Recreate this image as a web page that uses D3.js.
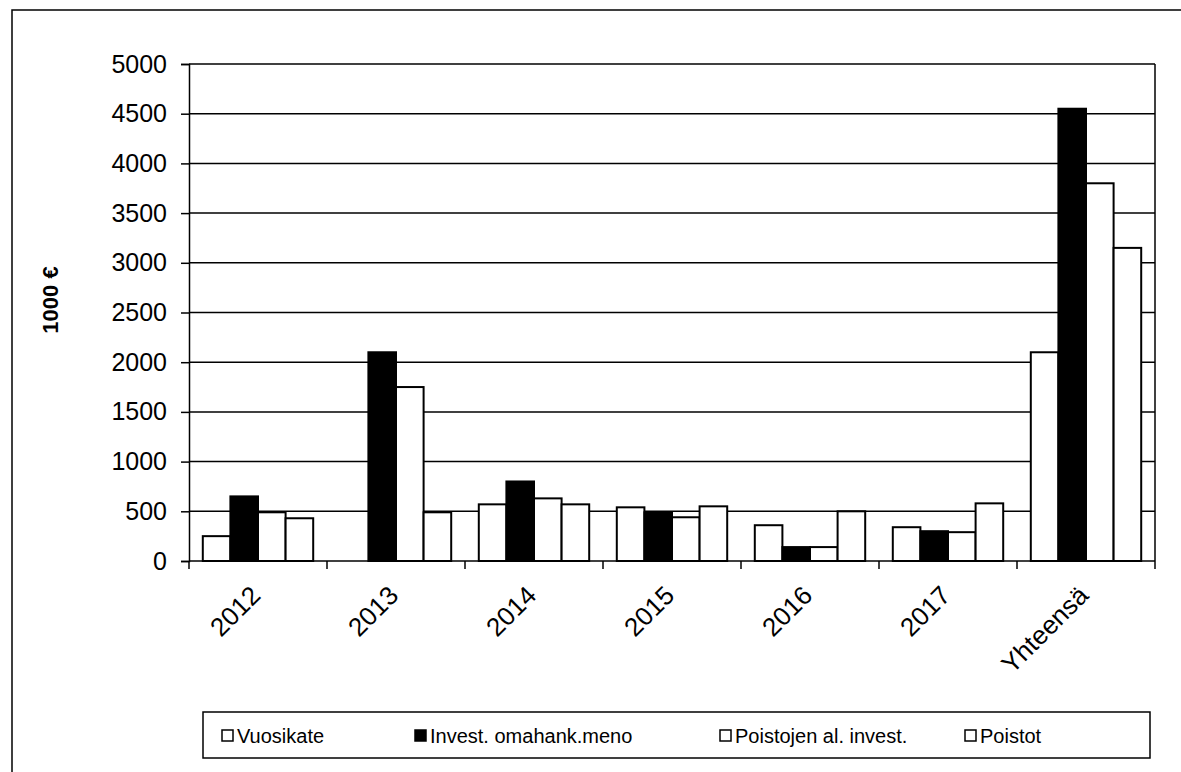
<!DOCTYPE html>
<html>
	<head>
		<meta http-equiv="Content-Type" content="text/html;charset=utf-8"/>
		<title>Vuosikate ja investoinnit</title>
		<script src="https://d3js.org/d3.v7.min.js"></script>
		<style type="text/css">

			body {
				margin: 0;
				background: #fff;
			}

			text {
				font-family: "Liberation Sans", Arial, sans-serif;
				fill: #000;
			}

			.grid line {
				stroke: #000;
				stroke-width: 1.5;
			}

			.bar {
				stroke: #000;
				stroke-width: 2;
			}

		</style>
	</head>
	<body>
		<script type="text/javascript">

			//Chart data (1000 €)
			var categories = ["2012", "2013", "2014", "2015", "2016", "2017", "Yhteensä"];
			var seriesNames = ["Vuosikate", "Invest. omahank.meno", "Poistojen al. invest.", "Poistot"];
			var vuosikate = [250, 0, 570, 540, 360, 340, 2100];
			var investMeno = [650, 2100, 800, 490, 140, 300, 4550];
			var poistojenAl = [490, 1750, 630, 440, 140, 290, 3800];
			var poistot = [430, 490, 570, 550, 500, 580, 3150];
			var yTicks = [0, 500, 1000, 1500, 2000, 2500, 3000, 3500, 4000, 4500, 5000];

			var seriesValues = [vuosikate, investMeno, poistojenAl, poistot];
			var seriesFill = ["#fff", "#000", "#fff", "#fff"];

			//Size of the page and the plot area
			var w = 1181,
				h = 772,
				plotLeft = 189,
				plotRight = 1155,
				plotTop = 64,
				plotBottom = 561;

			var svg = d3.select("body").append("svg")
						.attr("width", w)
						.attr("height", h);

			//Outer frame of the chart
			svg.append("rect")
				.attr("x", 12)
				.attr("y", 10)
				.attr("width", w + 10)
				.attr("height", h + 10)
				.attr("fill", "none")
				.attr("stroke", "#000")
				.attr("stroke-width", 1.5);

			//Scales
			var xScale = d3.scaleBand()
							.domain(categories)
							.range([plotLeft, plotRight])
							.padding(0);

			var xSeries = d3.scaleBand()
							.domain(d3.range(seriesNames.length))
							.range([0, xScale.bandwidth()])
							.paddingInner(0)
							.paddingOuter(0.5);

			var yScale = d3.scaleLinear()
							.domain([0, 5000])
							.range([plotBottom, plotTop]);

			//Horizontal gridlines
			svg.append("g")
				.attr("class", "grid")
				.selectAll("line")
				.data(yTicks.slice(1))
				.enter()
				.append("line")
				.attr("x1", plotLeft)
				.attr("x2", plotRight)
				.attr("y1", function(d) { return yScale(d); })
				.attr("y2", function(d) { return yScale(d); });

			//Right border of the plot area
			svg.append("line")
				.attr("x1", plotRight)
				.attr("x2", plotRight)
				.attr("y1", plotTop)
				.attr("y2", plotBottom)
				.attr("stroke", "#000")
				.attr("stroke-width", 1.5);

			//Bars, one group per category
			var groups = svg.selectAll("g.cat")
				.data(categories)
				.enter()
				.append("g")
				.attr("class", "cat")
				.attr("transform", function(d) {
					return "translate(" + xScale(d) + ",0)";
				});

			groups.selectAll("rect.bar")
				.data(function(d, i) {
					return seriesValues.map(function(s, j) {
						return { s: j, value: s[i] };
					});
				})
				.enter()
				.append("rect")
				.attr("class", "bar")
				.attr("x", function(d) { return xSeries(d.s); })
				.attr("width", xSeries.bandwidth())
				.attr("y", function(d) { return yScale(d.value); })
				.attr("height", function(d) { return plotBottom - yScale(d.value); })
				.attr("fill", function(d) { return seriesFill[d.s]; });

			//Y axis
			var yAxis = d3.axisLeft(yScale)
							.tickValues(yTicks)
							.tickFormat(d3.format("d"))
							.tickSize(8)
							.tickPadding(14);

			var gy = svg.append("g")
				.attr("transform", "translate(" + plotLeft + ",0)")
				.call(yAxis);
			gy.select(".domain").attr("stroke-width", 1.5);
			gy.selectAll(".tick line").attr("stroke-width", 1.5);
			gy.selectAll(".tick text")
				.attr("font-size", 25)
				.attr("font-family", "Liberation Sans, Arial, sans-serif");

			//X axis: ticks between the categories
			var gx = svg.append("g")
				.attr("transform", "translate(0," + plotBottom + ")");

			gx.append("line")
				.attr("x1", plotLeft)
				.attr("x2", plotRight)
				.attr("stroke", "#000")
				.attr("stroke-width", 1.5);

			gx.selectAll("line.tk")
				.data(categories.concat([null]))
				.enter()
				.append("line")
				.attr("class", "tk")
				.attr("x1", function(d, i) { return plotLeft + i * xScale.step(); })
				.attr("x2", function(d, i) { return plotLeft + i * xScale.step(); })
				.attr("y1", 0)
				.attr("y2", 8)
				.attr("stroke", "#000")
				.attr("stroke-width", 1.5);

			gx.selectAll("text")
				.data(categories)
				.enter()
				.append("text")
				.attr("text-anchor", "end")
				.attr("font-size", 26)
				.attr("transform", function(d) {
					var cx = xScale(d) + xScale.bandwidth() / 2 + 4;
					return "translate(" + cx + ",36) rotate(-45)";
				})
				.text(function(d) { return d; });

			//Y axis title
			svg.append("text")
				.attr("transform", "translate(58,300) rotate(-90)")
				.attr("text-anchor", "middle")
				.attr("font-size", 22)
				.attr("font-weight", "bold")
				.text("1000 €");

			//Legend
			svg.append("rect")
				.attr("x", 203)
				.attr("y", 712)
				.attr("width", 947)
				.attr("height", 46)
				.attr("fill", "#fff")
				.attr("stroke", "#000")
				.attr("stroke-width", 1.5);

			var legendX = [222, 415, 720, 965];

			var items = svg.selectAll("g.legend")
				.data(seriesNames)
				.enter()
				.append("g")
				.attr("class", "legend")
				.attr("transform", function(d, i) {
					return "translate(" + legendX[i] + ",736)";
				});

			items.append("rect")
				.attr("x", 0)
				.attr("y", -6)
				.attr("width", 11)
				.attr("height", 11)
				.attr("fill", function(d, i) { return seriesFill[i]; })
				.attr("stroke", "#000")
				.attr("stroke-width", 1.5);

			items.append("text")
				.attr("x", 15)
				.attr("y", 7)
				.attr("font-size", 20)
				.text(function(d) { return d; });

		</script>
	</body>
</html>
